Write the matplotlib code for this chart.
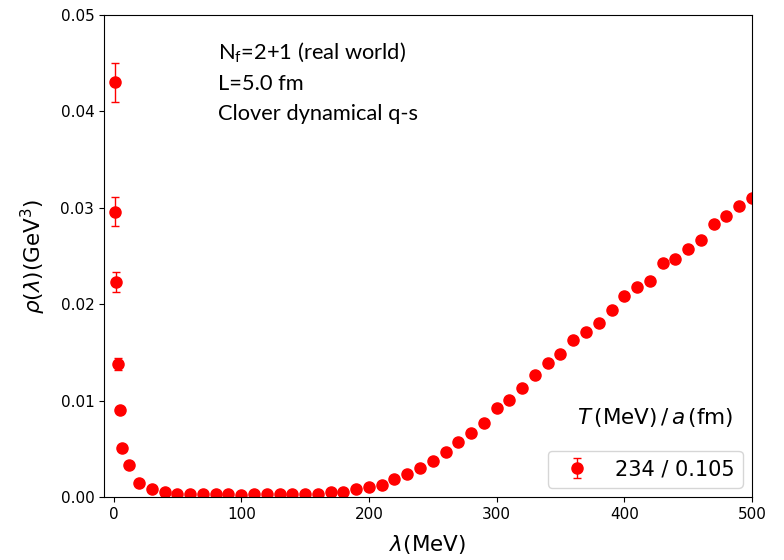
import matplotlib
matplotlib.use("Agg")
import matplotlib.pyplot as plt

# Data
lam = [1.0, 1.3, 2.0, 3.3, 4.7, 6.5, 12, 20, 30, 40, 50, 60, 70, 80, 90, 100,
       110, 120, 130, 140, 150, 160, 170, 180, 190, 200, 210, 220, 230, 240,
       250, 260, 270, 280, 290, 300, 310, 320, 330, 340, 350, 360, 370, 380,
       390, 400, 410, 420, 430, 440, 450, 460, 470, 480, 490, 500]
rho = [0.0430, 0.0296, 0.0223, 0.0138, 0.0090, 0.0051, 0.00330, 0.00142, 0.00083,
       0.00054, 0.00036, 0.00026, 0.00026, 0.00026, 0.00026, 0.00016,
       0.00026, 0.00026, 0.00026, 0.00036, 0.00030, 0.00036, 0.00057, 0.00047,
       0.00088, 0.00100, 0.00127, 0.00190, 0.00240, 0.00300,
       0.00378, 0.00466, 0.00570, 0.00660, 0.00770, 0.00920, 0.01010, 0.01130,
       0.01270, 0.01390, 0.01480, 0.01630, 0.01710, 0.01800, 0.01940, 0.02090,
       0.02180, 0.02240, 0.02430, 0.02470, 0.02570, 0.02670, 0.02830, 0.02920,
       0.03020, 0.03100]
err = [0.0020, 0.0015, 0.0010, 0.0006, 0.0003, 0.0002, 0.0001] + [0.00005] * 49

legend_label = "234 / 0.105"
legend_title = r"$T\,(\mathrm{MeV})\,/\,a\,(\mathrm{fm})$"
info_lines = ["N$_\\mathregular{f}$=2+1 (real world)", "L=5.0 fm", "Clover dynamical q-s"]

W, H = 784, 560
fig = plt.figure(figsize=(W / 100, H / 100), dpi=100)
ax = fig.add_axes([104 / W, 1 - 497 / H, (752 - 104) / W, (497 - 15) / H])

ax.errorbar(lam, rho, yerr=err, fmt='o', color='red', ms=8, capsize=3,
            elinewidth=1, capthick=1, label=legend_label)

ax.set_xlim(-7.5, 500)
ax.set_ylim(0, 0.05)
ax.set_xticks([0, 100, 200, 300, 400, 500])
ax.set_yticks([0.0, 0.01, 0.02, 0.03, 0.04, 0.05])
ax.set_yticklabels(["0.00", "0.01", "0.02", "0.03", "0.04", "0.05"])
ax.tick_params(labelsize=11)

ax.set_xlabel(r"$\lambda$(MeV)", fontsize=15.5, labelpad=8)
ax.set_ylabel(r"$\rho(\lambda)$(GeV$^3$)", fontsize=15.5, labelpad=9)

leg = ax.legend(loc='lower right', fontsize=15, borderaxespad=0.45,
                handletextpad=0.8)

ax.text(0.971, 0.151, legend_title, transform=ax.transAxes, ha='right',
        va='baseline', fontsize=15.5)

# info text in figure pixel coords (origin top-left converted)
baselines = [59.5, 90.0, 120.5]
info_texts = []
for line, yb in zip(info_lines, baselines):
    t = fig.text(218 / W, 1 - yb / H, line, fontsize=15, family='Lato',
                 ha='left', va='baseline')
    info_texts.append(t)

# scale info font so that the last line spans ~201 px as in the reference
fig.canvas.draw()
r = fig.canvas.get_renderer()
w = info_texts[-1].get_window_extent(r).width
fs = 15 * 201.0 / w
for t in info_texts:
    t.set_fontsize(fs)

fig.savefig("out.png", dpi=100)
